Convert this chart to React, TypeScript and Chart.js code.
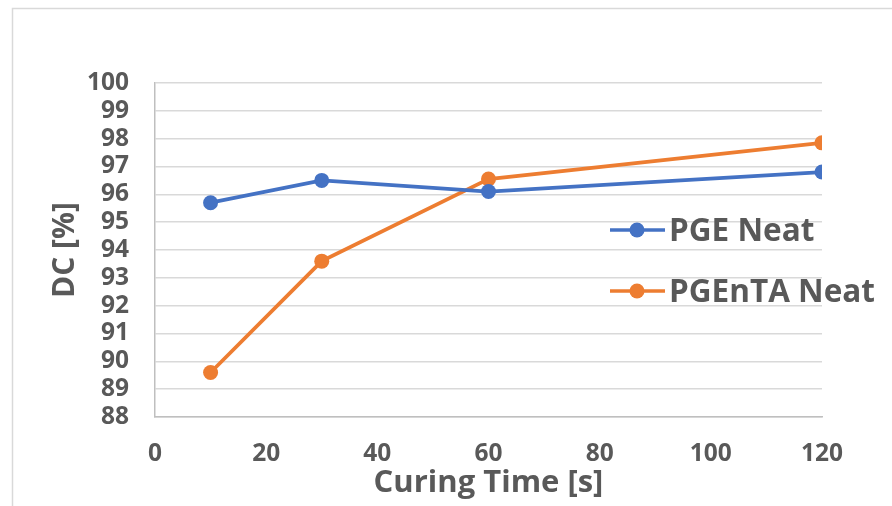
import React, { useEffect, useRef } from "react";
import { Chart, registerables } from "chart.js";

Chart.register(...registerables);

const curingTimes = [10, 30, 60, 120];
const pgeNeat = [95.7, 96.5, 96.1, 96.8];
const pgentaNeat = [89.6, 93.6, 96.55, 97.85];
const seriesLabels = ["PGE Neat", "PGEnTA Neat"];
const xTitle = "Curing Time [s]";
const yTitle = "DC [%]";

const FONT = "'Open Sans', 'DejaVu Sans', sans-serif";
const TEXT = "#595959";
const BLUE = "#4472C4";
const ORANGE = "#ED7D31";

const frame = {
  id: "frame",
  beforeDraw(chart: any) {
    const ctx = chart.ctx;
    ctx.save();
    ctx.fillStyle = "#ffffff";
    ctx.fillRect(0, 0, chart.width, chart.height);
    ctx.strokeStyle = "#d9d9d9";
    ctx.lineWidth = 1.5;
    ctx.strokeRect(12.5, 8.5, chart.width + 20, chart.height + 20);
    ctx.restore();
  },
};

const inlineLegend = {
  id: "inlineLegend",
  afterDatasetsDraw(chart: any) {
    const ctx = chart.ctx;
    const rows = [241, 302];
    ctx.save();
    chart.data.datasets.forEach((ds: any, i: number) => {
      const base = rows[i];
      const cy = base - 11;
      ctx.strokeStyle = ds.borderColor;
      ctx.lineWidth = 3.5;
      ctx.beginPath();
      ctx.moveTo(610, cy);
      ctx.lineTo(665, cy);
      ctx.stroke();
      ctx.fillStyle = ds.backgroundColor;
      ctx.beginPath();
      ctx.arc(637, cy, 7.5, 0, Math.PI * 2);
      ctx.fill();
      ctx.fillStyle = TEXT;
      ctx.font = `bold 31.5px ${FONT}`;
      ctx.textAlign = "left";
      ctx.textBaseline = "alphabetic";
      ctx.fillText(ds.label, 669, base);
    });
    ctx.restore();
  },
};

export default function App() {
  const ref = useRef<HTMLCanvasElement>(null);
  useEffect(() => {
    if (!ref.current) return;
    const mk = (ys: number[]) => curingTimes.map((x, i) => ({ x, y: ys[i] }));
    const chart = new Chart(ref.current, {
      type: "line",
      data: {
        datasets: [
          {
            label: seriesLabels[0],
            data: mk(pgeNeat),
            borderColor: BLUE,
            backgroundColor: BLUE,
            borderWidth: 3.75,
            pointRadius: 7.5,
            pointHoverRadius: 7.5,
            pointBorderWidth: 0,
          },
          {
            label: seriesLabels[1],
            data: mk(pgentaNeat),
            borderColor: ORANGE,
            backgroundColor: ORANGE,
            borderWidth: 3.75,
            pointRadius: 7.5,
            pointHoverRadius: 7.5,
            pointBorderWidth: 0,
          },
        ],
      },
      options: {
        animation: false,
        responsive: false,
        devicePixelRatio: 1,
        layout: { padding: { left: 0, top: 83, right: 70, bottom: 0 } },
        plugins: { legend: { display: false }, tooltip: { enabled: false } },
        scales: {
          x: {
            type: "linear",
            min: 0,
            max: 120,
            ticks: {
              stepSize: 20,
              color: TEXT,
              font: { family: FONT, size: 24.5, weight: "bold" },
              padding: 22,
              maxRotation: 0,
              autoSkip: false,
            },
            grid: { display: false, drawTicks: false },
            border: { display: true, color: "#bfbfbf", width: 1.5 },
            title: {
              display: true,
              text: xTitle,
              color: TEXT,
              font: { family: FONT, size: 31, weight: "bold" },
              padding: { top: 0, bottom: 4 },
            },
            afterFit(scale: any) {
              scale.height = 89;
            },
          },
          y: {
            min: 88,
            max: 100,
            ticks: {
              stepSize: 1,
              color: TEXT,
              font: { family: FONT, size: 24.5, weight: "bold" },
              padding: 26,
              autoSkip: false,
            },
            grid: { color: "#d9d9d9", lineWidth: 1.5, drawTicks: false },
            border: { display: true, color: "#bfbfbf", width: 1.5 },
            title: {
              display: true,
              text: yTitle,
              color: TEXT,
              font: { family: FONT, size: 30, weight: "bold" },
              padding: { top: 47, bottom: 0 },
            },
            afterFit(scale: any) {
              scale.width = 155;
            },
          },
        },
      },
      plugins: [frame, inlineLegend],
    });
    return () => chart.destroy();
  }, []);
  return (
    <div style={{ position: "fixed", left: 0, top: 0, width: 892, height: 506 }}>
      <canvas ref={ref} width={892} height={506} />
    </div>
  );
}
